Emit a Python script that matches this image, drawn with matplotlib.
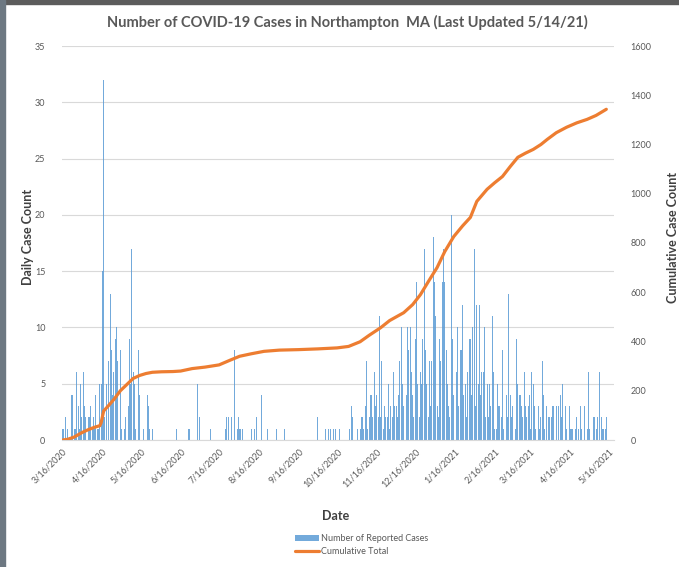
import matplotlib
matplotlib.use("Agg")
import matplotlib.pyplot as plt
from matplotlib.patches import Rectangle
import pandas as pd

plt.rcParams['font.family'] = ['Lato', 'DejaVu Sans']

# ---------------- data ----------------
title = "Number of COVID-19 Cases in Northampton  MA (Last Updated 5/14/21)"
start_date = "2020-03-16"

daily_mar20 = [1, 1, 2, 0, 1, 0, 0, 4, 4, 1, 1, 6, 3, 1, 5, 2]
daily_apr20 = [6, 3, 2, 1, 2, 2, 3, 1, 2, 1, 4, 1, 1, 5, 5, 15, 32,
               2, 5, 0, 7, 13, 8, 4, 6, 9, 10, 7, 0, 8]
daily_may20 = [1, 0, 1, 2, 0, 3, 9, 5, 17, 6, 5, 1,
               0, 8, 4, 0, 0, 1, 0, 3, 4, 3, 1, 0, 1, 0, 0, 0, 0, 0, 0]
daily_jun20 = [0, 0, 0, 0, 0, 0, 0, 0, 0, 0, 0, 0, 1, 0, 0,
               0, 0, 0, 0, 0, 0, 1, 1, 0, 0, 0, 0, 0, 5, 0]
daily_jul20 = [2, 0, 0, 0, 0, 0, 0, 0, 1, 0, 0, 0, 0, 0, 0, 0,
               0, 0, 0, 0, 1, 2, 2, 0, 0, 2, 0, 8, 0, 1, 2]
daily_aug20 = [1, 1, 1, 0, 0, 3, 0, 0, 0, 1, 0, 0, 1, 2, 0, 0,
               0, 4, 0, 0, 0, 0, 1, 0, 0, 0, 0, 0, 0, 1, 0]
daily_sep20 = [0, 0, 0, 0, 1, 0, 0, 0, 0, 0, 0, 0, 0, 0, 0,
               0, 0, 0, 0, 0, 0, 0, 0, 0, 0, 0, 0, 0, 0, 0]
daily_oct20 = [2, 0, 0, 0, 0, 0, 1, 0, 1, 0, 1, 0, 1, 0, 1, 0,
               0, 1, 0, 0, 0, 0, 3, 0, 0, 1, 3, 2, 0, 5, 0]
daily_nov20 = [1, 0, 1, 2, 2, 1, 3, 7, 1, 2, 4, 4, 2, 6, 3,
               4, 2, 11, 2, 7, 1, 3, 2, 2, 5, 1, 3, 2, 6, 3]
daily_dec20 = [3, 2, 4, 7, 10, 5, 3, 6, 4, 10, 8, 10, 6, 4, 2, 9,
               14, 5, 2, 6, 5, 9, 17, 8, 5, 2, 7, 3, 7, 18, 14]
daily_jan21 = [11, 3, 2, 9, 7, 14, 17, 14, 8, 5, 3, 2, 20, 9, 4, 4,
               6, 10, 3, 8, 8, 12, 4, 5, 2, 6, 9, 9, 4, 10, 17]
daily_feb21 = [3, 12, 5, 12, 4, 6, 6, 10, 2, 5, 2, 5, 3, 11,
               6, 1, 1, 5, 3, 3, 2, 8, 1, 4, 4, 2, 13, 4]
daily_mar21 = [2, 3, 5, 1, 9, 5, 4, 4, 3, 2, 6, 3, 2, 3, 4, 1,
               6, 5, 3, 1, 0, 3, 1, 2, 7, 4, 1, 3, 0, 2, 2]
daily_apr21 = [2, 3, 3, 1, 3, 0, 3, 4, 2, 5, 5, 3, 1, 0, 3,
               1, 1, 1, 0, 1, 2, 1, 0, 3, 1, 0, 3, 0, 1, 6]
daily_may21 = [1, 0, 0, 2, 2, 1, 2, 0, 6, 2, 1, 1, 1, 2]

cum_dates = ["2020-03-16", "2020-03-20", "2020-03-25", "2020-03-31", "2020-04-05",
             "2020-04-10", "2020-04-14", "2020-04-15", "2020-04-17", "2020-04-20",
             "2020-04-25", "2020-04-30", "2020-05-05", "2020-05-10", "2020-05-15",
             "2020-05-20", "2020-05-25", "2020-06-01", "2020-06-10", "2020-06-16",
             "2020-06-25", "2020-07-05", "2020-07-16", "2020-07-25", "2020-08-01",
             "2020-08-10", "2020-08-20", "2020-09-01", "2020-09-16", "2020-10-01",
             "2020-10-16", "2020-10-25", "2020-11-03", "2020-11-10", "2020-11-19",
             "2020-11-26", "2020-12-07", "2020-12-14", "2020-12-20", "2020-12-27",
             "2021-01-02", "2021-01-08", "2021-01-15", "2021-01-22", "2021-01-28",
             "2021-02-02", "2021-02-10", "2021-02-16", "2021-02-22", "2021-02-28",
             "2021-03-06", "2021-03-12", "2021-03-18", "2021-03-24", "2021-03-29",
             "2021-04-05", "2021-04-13", "2021-04-21", "2021-04-29", "2021-05-06",
             "2021-05-14"]
cum_values = [0, 3, 12, 30, 42,
              52, 58, 70, 118, 135,
              165, 200, 225, 250, 262,
              270, 275, 277, 278, 280,
              290, 296, 305, 325, 340,
              350, 360, 365, 367, 370,
              374, 380, 399, 425, 456,
              485, 517, 550, 590, 650,
              700, 765, 826, 870, 904,
              969, 1018, 1045, 1070, 1110,
              1148, 1165, 1180, 1200, 1221,
              1248, 1270, 1288, 1302, 1318,
              1343]

tick_labels = ["3/16/2020", "4/16/2020", "5/16/2020", "6/16/2020", "7/16/2020",
               "8/16/2020", "9/16/2020", "10/16/2020", "11/16/2020", "12/16/2020",
               "1/16/2021", "2/16/2021", "3/16/2021", "4/16/2021", "5/16/2021"]
left_ticks = [0, 5, 10, 15, 20, 25, 30, 35]
right_ticks = [0, 200, 400, 600, 800, 1000, 1200, 1400, 1600]

# ---------------- build ----------------
daily = (daily_mar20 + daily_apr20 + daily_may20 + daily_jun20 + daily_jul20 +
         daily_aug20 + daily_sep20 + daily_oct20 + daily_nov20 + daily_dec20 +
         daily_jan21 + daily_feb21 + daily_mar21 + daily_apr21 + daily_may21)
dates = pd.date_range(start_date, periods=len(daily), freq="D")
cdates = pd.to_datetime(cum_dates)
tick_dates = pd.to_datetime(tick_labels, format="%m/%d/%Y")

W, H = 679, 567
fig = plt.figure(figsize=(W / 100, H / 100), dpi=100)
fig.patch.set_facecolor("white")

# screenshot frame
fig.patches.append(Rectangle((0, 1 - 4 / H), 1, 4 / H, transform=fig.transFigure,
                             color="#5c5c5c", zorder=0))
fig.patches.append(Rectangle((0, 0), 5 / W, 1, transform=fig.transFigure,
                             color="#6d7882", zorder=0))

L, R, T, B = 62, 614, 46, 440
ax = fig.add_axes([L / W, 1 - B / H, (R - L) / W, (B - T) / H])
ax2 = ax.twinx()

gray = "#595959"
bar_color = "#5B9BD5"
line_color = "#ED7D31"

ax.bar(dates, daily, width=0.75, color=bar_color, alpha=0.85, linewidth=0, zorder=2,
       label="Number of Reported Cases")
ax2.plot(cdates, cum_values, color=line_color, lw=2.3, solid_capstyle="round",
         label="Cumulative Total", zorder=3)

ax.set_xlim(pd.Timestamp("2020-03-15 12:00"), pd.Timestamp("2021-05-20"))
ax.set_ylim(0, 35)
ax2.set_ylim(0, 1600)
ax.set_yticks(left_ticks)
ax2.set_yticks(right_ticks)
ax.set_xticks(tick_dates)
ax.set_xticklabels(tick_labels, rotation=45, ha="right", rotation_mode="anchor")

ax.grid(axis="y", color="#D9D9D9", lw=0.8, zorder=0)
ax.set_axisbelow(True)
for a in (ax, ax2):
    for s in a.spines.values():
        s.set_visible(False)
ax.spines["bottom"].set_visible(True)
ax.spines["bottom"].set_color("#D9D9D9")
ax.spines["bottom"].set_linewidth(0.8)

ax.tick_params(axis="y", length=0, labelsize=6.5, labelcolor=gray, pad=12)
ax2.tick_params(axis="y", length=0, labelsize=6.5, labelcolor=gray, pad=12)
ax.tick_params(axis="x", length=0, labelsize=6.5, labelcolor=gray, pad=5)

fig.text(347 / W, 1 - 22 / H, title, ha="center", va="center",
         fontsize=10.5, fontweight="bold", color=gray)
fig.text(28 / W, 1 - 237 / H, "Daily Case Count", rotation=90, ha="center",
         va="center", fontsize=9, fontweight="bold", color="#404040")
fig.text(673 / W, 1 - 237 / H, "Cumulative Case Count", rotation=90, ha="center",
         va="center", fontsize=9, fontweight="bold", color="#404040")
fig.text(336 / W, 1 - 516 / H, "Date", ha="center", va="center",
         fontsize=9, fontweight="bold", color="#404040")

h1, l1 = ax.get_legend_handles_labels()
h2, l2 = ax2.get_legend_handles_labels()
leg = fig.legend(h1 + h2, l1 + l2, loc="center", bbox_to_anchor=(362 / W, 1 - 545 / H),
                 frameon=False, fontsize=6.5, handlelength=2.6, handleheight=0.6,
                 labelspacing=0.45, handletextpad=0.3, borderpad=0)
for t in leg.get_texts():
    t.set_color(gray)

fig.savefig("out.png", dpi=100)
